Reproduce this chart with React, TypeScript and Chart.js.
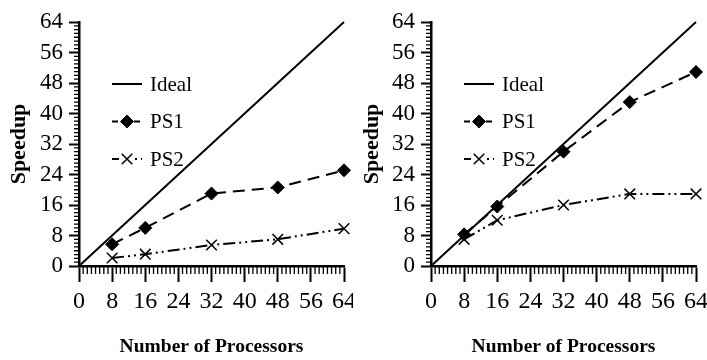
import React, { useEffect, useRef } from 'react';
import { Chart, registerables } from 'chart.js';
import { drawPoint } from 'chart.js/helpers';

Chart.register(...registerables);

// ---- data ----
const tickValues = [0, 8, 16, 24, 32, 40, 48, 56, 64];
const minorStep = 1;
const processors = [8, 16, 32, 48, 64];
const idealX = [0, 64];
const idealY = [0, 64];
const leftPS1 = [5.7, 10, 19, 20.6, 25.1];
const leftPS2 = [2.1, 3.1, 5.5, 7, 9.8];
const rightPS1 = [8.3, 15.6, 30, 43, 50.9];
const rightPS2 = [7, 12, 16, 18.9, 18.9];
const seriesLabels = ['Ideal', 'PS1', 'PS2'];
const xTitle = 'Number of Processors';
const yTitle = 'Speedup';

const FONT = "'Liberation Serif', 'Times New Roman', serif";

const minorTicksPlugin = {
  id: 'minorTicks',
  afterDraw(chart: any) {
    const { ctx } = chart;
    const xs = chart.scales.x;
    const ys = chart.scales.y;
    ctx.save();
    ctx.strokeStyle = '#000';
    ctx.lineWidth = 1.3;
    ctx.beginPath();
    for (let v = xs.min + minorStep; v < xs.max; v += minorStep) {
      if (tickValues.includes(v)) continue;
      const px = xs.getPixelForValue(v);
      ctx.moveTo(px, xs.top);
      ctx.lineTo(px, xs.top + 8);
    }
    for (let v = ys.min + minorStep; v < ys.max; v += minorStep) {
      if (tickValues.includes(v)) continue;
      const py = ys.getPixelForValue(v);
      ctx.moveTo(ys.right, py);
      ctx.lineTo(ys.right - 5, py);
    }
    ctx.stroke();
    ctx.restore();
  },
};

const inlineLegendPlugin = {
  id: 'inlineLegend',
  afterDraw(chart: any) {
    const { ctx, chartArea } = chart;
    const x0 = chartArea.left + 33;
    chart.data.datasets.forEach((ds: any, i: number) => {
      const y = chartArea.top + 62 + i * 37.5;
      ctx.save();
      ctx.strokeStyle = ds.borderColor;
      ctx.lineWidth = ds.borderWidth;
      ctx.setLineDash(ds.legendDash || []);
      ctx.beginPath();
      ctx.moveTo(x0, y);
      ctx.lineTo(x0 + 30, y);
      ctx.stroke();
      ctx.setLineDash([]);
      if (ds.pointRadius > 0) {
        ctx.fillStyle = ds.pointBackgroundColor;
        ctx.strokeStyle = ds.pointBorderColor;
        ctx.lineWidth = ds.pointBorderWidth;
        drawPoint(ctx, { pointStyle: ds.pointStyle, radius: ds.pointRadius, borderWidth: ds.pointBorderWidth, rotation: 0 } as any, x0 + 15, y);
      }
      ctx.fillStyle = '#000';
      ctx.font = `21px ${FONT}`;
      ctx.textBaseline = 'middle';
      ctx.textAlign = 'left';
      ctx.fillText(ds.label, x0 + 38, y + 1);
      ctx.restore();
    });
  },
};

function makeConfig(ps1: number[], ps2: number[], padRight: number, areaLeft: number): any {
  return {
    type: 'line',
    data: {
      datasets: [
        {
          label: seriesLabels[0],
          data: idealX.map((x, i) => ({ x, y: idealY[i] })),
          borderColor: '#000',
          borderWidth: 2,
          pointRadius: 0,
          legendDash: [],
          clip: false,
        },
        {
          label: seriesLabels[1],
          data: processors.map((x, i) => ({ x, y: ps1[i] })),
          borderColor: '#000',
          borderWidth: 2,
          borderDash: [12, 7],
          legendDash: [6, 5],
          pointStyle: 'rectRot',
          pointRadius: 6.5,
          pointBackgroundColor: '#000',
          pointBorderColor: '#000',
          pointBorderWidth: 1,
          clip: false,
        },
        {
          label: seriesLabels[2],
          data: processors.map((x, i) => ({ x, y: ps2[i] })),
          borderColor: '#000',
          borderWidth: 2,
          borderDash: [12, 4, 2, 4, 2, 4],
          legendDash: [7, 16, 2, 4],
          pointStyle: 'crossRot',
          pointRadius: 7.5,
          pointBackgroundColor: '#000',
          pointBorderColor: '#000',
          pointBorderWidth: 1.5,
          clip: false,
        },
      ],
    },
    options: {
      animation: false,
      responsive: false,
      maintainAspectRatio: false,
      layout: { padding: { left: 0, top: 22, right: padRight, bottom: 0 } },
      plugins: { legend: { display: false }, tooltip: { enabled: false } },
      scales: {
        x: {
          type: 'linear',
          min: 0,
          max: 64,
          afterBuildTicks: (s: any) => { s.ticks = tickValues.map((v) => ({ value: v })); },
          afterFit: (s: any) => {
            s.height = 360 - 266;
            s.paddingLeft = 0; s.paddingRight = 0; s.paddingTop = 0; s.paddingBottom = 0;
          },
          border: { display: true, color: '#000', width: 2.5 },
          grid: { drawOnChartArea: false, drawTicks: true, tickLength: 16, tickWidth: 2, tickColor: '#000' },
          ticks: { color: '#000', font: { family: FONT, size: 24 }, padding: 5, maxRotation: 0, autoSkip: false },
          title: { display: true, text: xTitle, color: '#000', font: { family: FONT, size: 19.5, weight: 'bold' }, padding: { top: 0, bottom: 1 } },
        },
        y: {
          type: 'linear',
          min: 0,
          max: 64,
          afterBuildTicks: (s: any) => { s.ticks = tickValues.map((v) => ({ value: v })); },
          afterFit: (s: any) => {
            s.width = areaLeft;
            s.paddingLeft = 0; s.paddingRight = 0; s.paddingTop = 0; s.paddingBottom = 0;
          },
          border: { display: true, color: '#000', width: 2.5 },
          grid: { drawOnChartArea: false, drawTicks: true, tickLength: 10, tickWidth: 2, tickColor: '#000' },
          ticks: { color: '#000', font: { family: FONT, size: 23 }, padding: 6, autoSkip: false },
          title: { display: true, text: yTitle, color: '#000', font: { family: FONT, size: 22, weight: 'bold' }, padding: { top: 6, bottom: 0 } },
        },
      },
    },
    plugins: [minorTicksPlugin, inlineLegendPlugin],
  };
}

function SpeedupChart(props: { ps1: number[]; ps2: number[]; width: number; left: number; padRight: number; areaLeft: number }) {
  const ref = useRef<HTMLCanvasElement | null>(null);
  useEffect(() => {
    if (!ref.current) return;
    const chart = new Chart(ref.current, makeConfig(props.ps1, props.ps2, props.padRight, props.areaLeft));
    return () => chart.destroy();
  }, []);
  return (
    <canvas
      ref={ref}
      width={props.width}
      height={360}
      style={{ position: 'absolute', left: props.left, top: 0, width: props.width, height: 360 }}
    />
  );
}

export default function App() {
  return (
    <div style={{ position: 'absolute', left: 0, top: 0, width: 707, height: 360, background: '#fff', overflow: 'hidden' }}>
      <SpeedupChart ps1={leftPS1} ps2={leftPS2} width={353} left={0} padRight={9} areaLeft={79} />
      <SpeedupChart ps1={rightPS1} ps2={rightPS2} width={354} left={353} padRight={11} areaLeft={78} />
    </div>
  );
}
